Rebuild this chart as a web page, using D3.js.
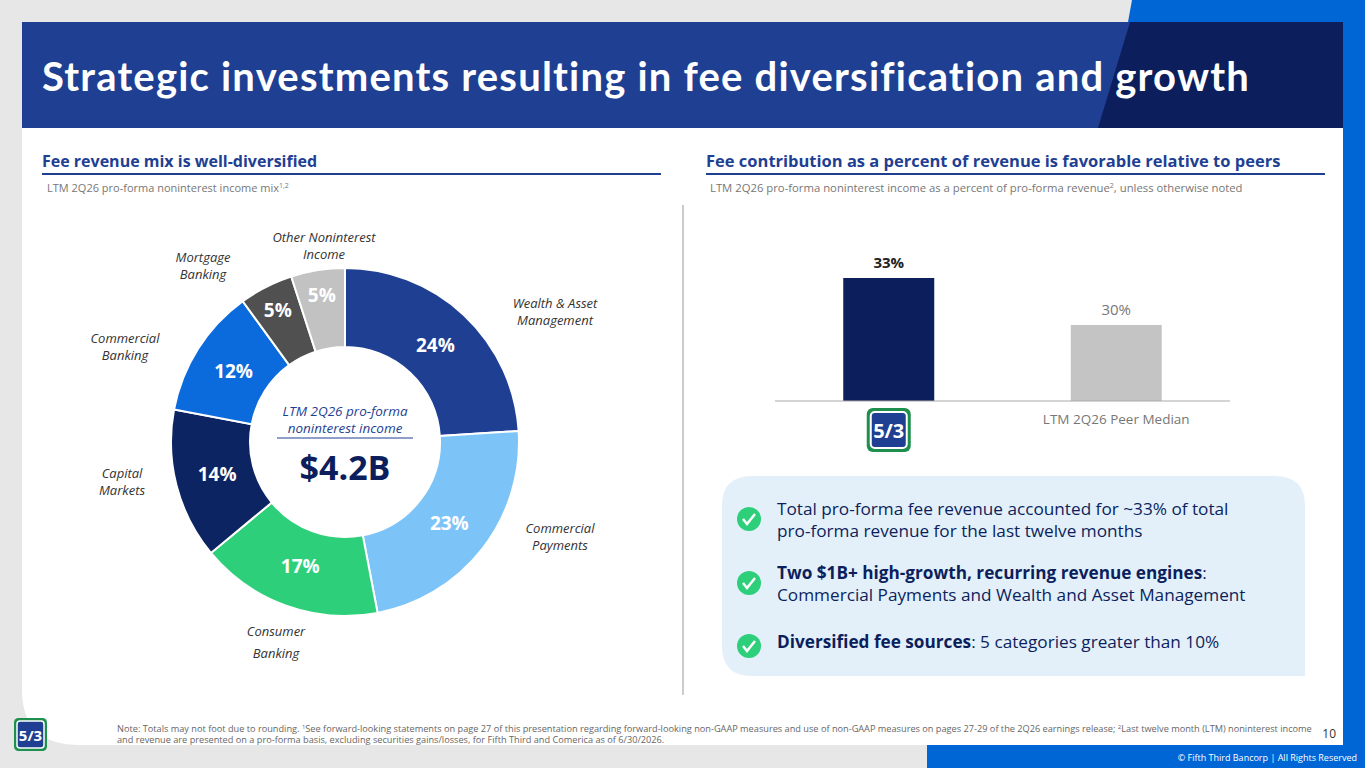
<!DOCTYPE html>
<html><head><meta charset="utf-8">
<script src="https://cdn.jsdelivr.net/npm/d3@7"></script>
<style>body{margin:0;overflow:hidden}svg{display:block;font-family:"Open Sans",sans-serif}</style>
</head><body>
<script>
// Donut data
var mixLabels = ["Wealth & Asset Management", "Commercial Payments", "Consumer Banking", "Capital Markets", "Commercial Banking", "Mortgage Banking", "Other Noninterest Income"];
var mixValues = [24, 23, 17, 14, 12, 5, 5];
var mixColors = ["#1f3f93", "#7cc4f8", "#2ecf7a", "#0c2461", "#0b6bdc", "#505050", "#c2c2c2"];
// Bar data
var barCats = ["Fifth Third", "LTM 2Q26 Peer Median"];
var barValues = [33, 30];
var barColors = ["#0c1f5c", "#c4c4c4"];

var W = 1365, H = 768;
var svg = d3.select("body").append("svg").attr("width", W).attr("height", H);

// background
svg.append("rect").attr("width", W).attr("height", H).attr("fill", "#e7e7e7");
svg.append("polygon").attr("points", "1132,0 1365,0 1365,768 927,768 927,745 1343,745 1343,22 1128,22").attr("fill", "#0066d6");
svg.append("path").attr("d", "M22,22 H1343 V745 H80 Q22,745 22,690 Z").attr("fill", "#fff");
svg.append("rect").attr("x", 22).attr("y", 22).attr("width", 1321).attr("height", 106).attr("fill", "#1f3f93");
svg.append("polygon").attr("points", "1130,22 1343,22 1343,128 1098,128").attr("fill", "#0c1f5c");
svg.append("text").attr("x", 42).attr("y", 91).attr("fill", "#fff").attr("font-size", 40).attr("font-weight", 700)
  .attr("font-family", "Lato, sans-serif").attr("letter-spacing", 1.2)
  .text("Strategic investments resulting in fee diversification and growth");

// section headers
svg.append("text").attr("x", 42).attr("y", 167).attr("fill", "#1f3f93").attr("font-size", 16).attr("font-weight", 700).text("Fee revenue mix is well-diversified");
svg.append("line").attr("x1", 42).attr("x2", 661).attr("y1", 174).attr("y2", 174).attr("stroke", "#1f3f93").attr("stroke-width", 2);
svg.append("text").attr("x", 706).attr("y", 167).attr("fill", "#1f3f93").attr("font-size", 16.5).attr("font-weight", 700).text("Fee contribution as a percent of revenue is favorable relative to peers");
svg.append("line").attr("x1", 706).attr("x2", 1325).attr("y1", 174).attr("y2", 174).attr("stroke", "#1f3f93").attr("stroke-width", 2);
var s1 = svg.append("text").attr("x", 47).attr("y", 192).attr("fill", "#777").attr("font-size", 11);
s1.append("tspan").text("LTM 2Q26 pro-forma noninterest income mix");
s1.append("tspan").attr("font-size", 7).attr("dy", -4).text("1,2");
var s2 = svg.append("text").attr("x", 710).attr("y", 192).attr("fill", "#777").attr("font-size", 11.3);
s2.append("tspan").text("LTM 2Q26 pro-forma noninterest income as a percent of pro-forma revenue");
s2.append("tspan").attr("font-size", 7).attr("dy", -4).text("2");
s2.append("tspan").attr("dy", 4).text(", unless otherwise noted");
svg.append("line").attr("x1", 683).attr("x2", 683).attr("y1", 205).attr("y2", 695).attr("stroke", "#999");

// donut
var cx = 345, cy = 442, rO = 174, rI = 95;
var pie = d3.pie().sort(null).value(d => d)(mixValues);
var arc = d3.arc().innerRadius(rI).outerRadius(rO);
var g = svg.append("g").attr("transform", `translate(${cx},${cy})`);
g.selectAll("path").data(pie).enter().append("path").attr("d", arc)
  .attr("fill", (d, i) => mixColors[i]).attr("stroke", "#fff").attr("stroke-width", 2);
var lblArc = d3.arc().innerRadius(rO - 42).outerRadius(rO - 42);
var lblArcSmall = d3.arc().innerRadius(rO - 26).outerRadius(rO - 26);
g.selectAll("text.pct").data(pie).enter().append("text")
  .attr("transform", (d, i) => `translate(${(i >= 5 ? lblArcSmall : lblArc).centroid(d)})`)
  .attr("text-anchor", "middle").attr("dy", "0.35em")
  .attr("fill", "#fff").attr("font-size", 19).attr("font-weight", 700)
  .text(d => d.data + "%");
g.append("text").attr("y", -26).attr("text-anchor", "middle").attr("fill", "#1f3f93").attr("font-size", 13.5).attr("font-style", "italic").text("LTM 2Q26 pro-forma");
g.append("text").attr("y", -9).attr("text-anchor", "middle").attr("fill", "#1f3f93").attr("font-size", 13.5).attr("font-style", "italic").text("noninterest income");
g.append("line").attr("x1", -68).attr("x2", 68).attr("y1", -4).attr("y2", -4).attr("stroke", "#1f3f93");
g.append("text").attr("y", 38).attr("text-anchor", "middle").attr("fill", "#0c1f5c").attr("font-size", 34).attr("font-weight", 700).text("$4.2B");

// category labels
var catPos = [[555, 308, ["Wealth & Asset", "Management"]], [560, 533, ["Commercial", "Payments"]],
  [276, 636, ["Consumer", "Banking"]], [122, 478, ["Capital", "Markets"]],
  [125, 343, ["Commercial", "Banking"]], [203, 262, ["Mortgage", "Banking"]],
  [324, 242, ["Other Noninterest", "Income"]]];
catPos.forEach(function(p, i) {
  var t = svg.append("text").attr("x", p[0]).attr("y", p[1]).attr("text-anchor", "middle")
    .attr("fill", "#333").attr("font-size", 13).attr("font-style", "italic");
  p[2].forEach((s, k) => t.append("tspan").attr("x", p[0]).attr("dy", k ? (i === 2 ? 22 : 17) : 0).text(s));
});

// bar chart
var x = d3.scaleBand().domain(barCats).range([775, 1230]).paddingInner(0.6).paddingOuter(0.3);
var y = d3.scaleLinear().domain([25.15, 33]).range([401, 278]);
svg.selectAll("rect.bar").data(barValues).enter().append("rect")
  .attr("x", (d, i) => x(barCats[i])).attr("width", x.bandwidth())
  .attr("y", d => y(d)).attr("height", d => 401 - y(d)).attr("fill", (d, i) => barColors[i]);
svg.selectAll("text.bv").data(barValues).enter().append("text")
  .attr("x", (d, i) => x(barCats[i]) + x.bandwidth() / 2).attr("y", d => y(d) - 10)
  .attr("text-anchor", "middle").attr("font-size", 15).attr("font-weight", (d, i) => i ? 400 : 700)
  .attr("fill", (d, i) => i ? "#777" : "#222").text(d => d + "%");
svg.append("line").attr("x1", 775).attr("x2", 1230).attr("y1", 401).attr("y2", 401).attr("stroke", "#aaa");
svg.append("text").attr("x", x(barCats[1]) + x.bandwidth() / 2).attr("y", 424).attr("text-anchor", "middle")
  .attr("fill", "#777").attr("font-size", 13.5).text(barCats[1]);
// logo
var lx = x(barCats[0]) + x.bandwidth() / 2 - 22;
function logo(gx, gy, s) {
  var lg = svg.append("g").attr("transform", `translate(${gx},${gy}) scale(${s})`);
  lg.append("rect").attr("width", 44).attr("height", 44).attr("rx", 6).attr("fill", "#1f8f4e");
  lg.append("rect").attr("x", 4).attr("y", 4).attr("width", 36).attr("height", 36).attr("rx", 4).attr("fill", "#1f3f93").attr("stroke", "#fff").attr("stroke-width", 2);
  lg.append("text").attr("x", 22).attr("y", 30).attr("text-anchor", "middle").attr("fill", "#fff").attr("font-size", 20).attr("font-weight", 700).text("5/3");
}
logo(lx, 408, 1);
logo(14, 718, 0.75);

// callout
svg.append("path").attr("d", "M752,476 H1275 Q1305,476 1305,506 V676 H752 Q722,676 722,646 V506 Q722,476 752,476 Z").attr("fill", "#e3f0fa");
var bullets = [[["Total pro-forma fee revenue accounted for ~33% of total", 0], ["pro-forma revenue for the last twelve months", 0]],
  [["Two $1B+ high-growth, recurring revenue engines", 1, ":"], ["Commercial Payments and Wealth and Asset Management", 0]],
  [["Diversified fee sources", 1, ": 5 categories greater than 10%"]]];
var by = [516, 580, 643];
bullets.forEach(function(b, i) {
  var c = svg.append("g").attr("transform", `translate(749,${by[i] + 3})`);
  c.append("circle").attr("r", 12).attr("fill", "#2ecf7a");
  c.append("path").attr("d", "M-6,0 L-2,5 L6,-5").attr("fill", "none").attr("stroke", "#fff").attr("stroke-width", 2.5);
  b.forEach(function(line, k) {
    var t = svg.append("text").attr("x", 777).attr("y", by[i] + k * 22 - (b.length > 1 ? 1 : -5)).attr("font-size", 17.2).attr("fill", "#0c1f5c");
    t.append("tspan").attr("font-weight", line[1] ? 700 : 400).text(line[0]);
    if (line[2]) t.append("tspan").text(line[2]);
  });
});

// footer
var f = svg.append("text").attr("x", 117).attr("y", 732).attr("font-size", 9.2).attr("fill", "#666");
f.append("tspan").text("Note: Totals may not foot due to rounding. ");
f.append("tspan").attr("font-size", 6).attr("dy", -3).text("1");
f.append("tspan").attr("dy", 3).text("See forward-looking statements on page 27 of this presentation regarding forward-looking non-GAAP measures and use of non-GAAP measures on pages 27-29 of the 2Q26 earnings release; ");
f.append("tspan").attr("font-size", 6).attr("dy", -3).text("2");
f.append("tspan").attr("dy", 3).text("Last twelve month (LTM)  noninterest income");
svg.append("text").attr("x", 117).attr("y", 743).attr("font-size", 9.2).attr("fill", "#666")
  .text("and revenue are presented on a pro-forma basis, excluding securities gains/losses, for Fifth Third and Comerica as of 6/30/2026.");
svg.append("text").attr("x", 1336).attr("y", 738).attr("text-anchor", "end").attr("font-size", 12).attr("fill", "#333").text("10");
svg.append("text").attr("x", 1357).attr("y", 761).attr("text-anchor", "end").attr("font-size", 9).attr("fill", "#fff").text("© Fifth Third Bancorp | All Rights Reserved");
</script>
</body></html>
